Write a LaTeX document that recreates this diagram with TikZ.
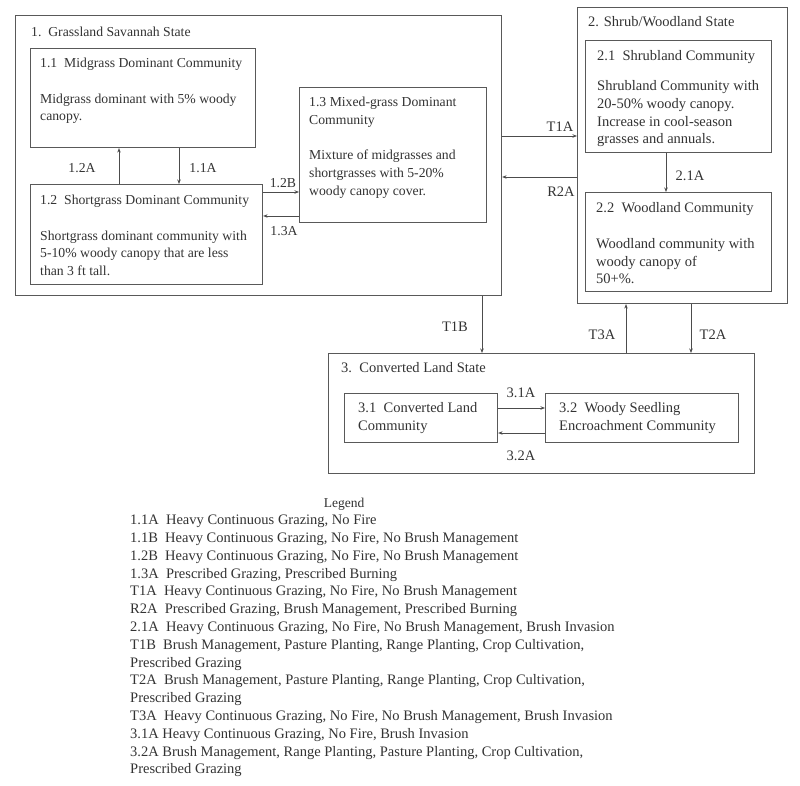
\documentclass[tikz,border=0pt]{standalone}
\usepackage{fontspec}
\setmainfont{Liberation Serif}
\usetikzlibrary{arrows.meta,calc}
\begin{document}
\begin{tikzpicture}[x=1pt,y=-1pt,
  every node/.style={font=\fontsize{14.5}{17.8}\selectfont, text=black!80},
  small/.style={font=\fontsize{13.7}{17.9}\selectfont},
  box/.style={draw=black!65, line width=1.1pt, anchor=north west, inner sep=0pt},
  txt/.style={anchor=north west, inner sep=0pt, align=left},
  lbl/.style={anchor=center, inner sep=0pt},
  arr/.style={draw=black!70, line width=0.9pt, -{Stealth[length=4.5pt,width=3.5pt]}}]
\fill[white] (0,0) rectangle (800,786);
\useasboundingbox (0,0) rectangle (800,786);
% state boxes
\node[box, minimum width=486pt, minimum height=280pt] (s1) at (15,15) {};
\node[box, minimum width=210pt, minimum height=296pt] (s2) at (577,7) {};
\node[box, minimum width=426pt, minimum height=120pt] (s3) at (328,353) {};
% community boxes
\node[box, minimum width=225pt, minimum height=99pt] (b11) at (30,48) {};
\node[box, minimum width=232pt, minimum height=100pt] (b12) at (30,184) {};
\node[box, minimum width=187pt, minimum height=135pt] (b13) at (299,87) {};
\node[box, minimum width=186pt, minimum height=112pt] (b21) at (585,40) {};
\node[box, minimum width=186pt, minimum height=99pt] (b22) at (585,192) {};
\node[box, minimum width=153pt, minimum height=49pt] (b31) at (344,393) {};
\node[box, minimum width=193pt, minimum height=49pt] (b32) at (545,393) {};
% titles
\node[txt, small] (t1) at (31,23.5) {\strut 1.\ \ Grassland Savannah State};
\node[txt] (t2) at (588,14) {\strut 2. Shrub/Woodland State};
\node[txt] (t3) at (341,360) {\strut 3.\ \ Converted Land State};
% texts
\node[txt, small] (x11) at (40,54.5) {\strut 1.1\ \ Midgrass Dominant Community\\[17.9pt]Midgrass dominant with 5\% woody\\canopy.};
\node[txt, small] (x12) at (40,191.5) {\strut 1.2\ \ Shortgrass Dominant Community\\[17.9pt]Shortgrass dominant community with\\5-10\% woody canopy that are less\\than 3 ft tall.};
\node[txt, small] (x13) at (309,93.5) {\strut 1.3 Mixed-grass Dominant\\Community\\[17.9pt]Mixture of midgrasses and\\shortgrasses with 5-20\%\\woody canopy cover.};
\node[txt] (x21) at (597,48) {\strut 2.1\ \ Shrubland Community\\[12pt]Shrubland Community with\\20-50\% woody canopy.\\Increase in cool-season\\grasses and annuals.};
\node[txt] (x22) at (596,200) {\strut 2.2\ \ Woodland Community\\[17.8pt]Woodland community with\\woody canopy of\\50+\%.};
\node[txt] (x31) at (358,400) {\strut 3.1\ \ Converted Land\\Community};
\node[txt] (x32) at (559,400) {\strut 3.2\ \ Woody Seedling\\Encroachment Community};
% arrows
\draw[arr] ([xshift=89pt]b12.north west) -- ([xshift=89pt]b11.south west);
\draw[arr] ([xshift=149pt]b11.south west) -- ([xshift=149pt]b12.north west);
\draw[arr] (b12.east |- 0,192) -- (b13.west |- 0,192);
\draw[arr] (b13.west |- 0,216) -- (b12.east |- 0,216);
\draw[arr] ([xshift=81pt]b21.south west) -- ([xshift=81pt]b22.north west);
\draw[arr] (s1.east |- 0,136) -- (s2.west |- 0,136);
\draw[arr] (s2.west |- 0,177) -- (s1.east |- 0,177);
\draw[arr] (s1.south -| 482,0) -- (s3.north -| 482,0);
\draw[arr] (s3.north -| 626,0) -- (s2.south -| 626,0);
\draw[arr] (s2.south -| 691,0) -- (s3.north -| 691,0);
\draw[arr] (b31.east |- 0,408) -- (b32.west |- 0,408);
\draw[arr] (b32.west |- 0,433) -- (b31.east |- 0,433);
% labels
\node[lbl, small] (l12a) at (82,168) {1.2A};
\node[lbl, small] (l11a) at (203,168) {1.1A};
\node[lbl, small] (l12b) at (283,183) {1.2B};
\node[lbl, small] (l13a) at (284,231) {1.3A};
\node[lbl] (lt1a) at (560,127) {T1A};
\node[lbl] (lr2a) at (561,192) {R2A};
\node[lbl] (l21a) at (690,176) {2.1A};
\node[lbl] (lt1b) at (455,327) {T1B};
\node[lbl] (lt3a) at (602,335) {T3A};
\node[lbl] (lt2a) at (713,335) {T2A};
\node[lbl] (l31a) at (521,393) {3.1A};
\node[lbl] (l32a) at (521,456) {3.2A};
% legend
\node[lbl, font=\fontsize{13.5}{16}\selectfont] (leg) at (344,504) {Legend};
\node[txt] (legtxt) at (130,512) {\strut 1.1A\ \ Heavy Continuous Grazing, No Fire\\
1.1B\ \ Heavy Continuous Grazing, No Fire, No Brush Management\\
1.2B\ \ Heavy Continuous Grazing, No Fire, No Brush Management\\
1.3A\ \ Prescribed Grazing, Prescribed Burning\\
T1A\ \ Heavy Continuous Grazing, No Fire, No Brush Management\\
R2A\ \ Prescribed Grazing, Brush Management, Prescribed Burning\\
2.1A\ \ Heavy Continuous Grazing, No Fire, No Brush Management, Brush Invasion\\
T1B\ \ Brush Management, Pasture Planting, Range Planting, Crop Cultivation,\\
Prescribed Grazing\\
T2A\ \ Brush Management, Pasture Planting, Range Planting, Crop Cultivation,\\
Prescribed Grazing\\
T3A\ \ Heavy Continuous Grazing, No Fire, No Brush Management, Brush Invasion\\
3.1A Heavy Continuous Grazing, No Fire, Brush Invasion\\
3.2A Brush Management, Range Planting, Pasture Planting, Crop Cultivation,\\
Prescribed Grazing};
\end{tikzpicture}
\end{document}
